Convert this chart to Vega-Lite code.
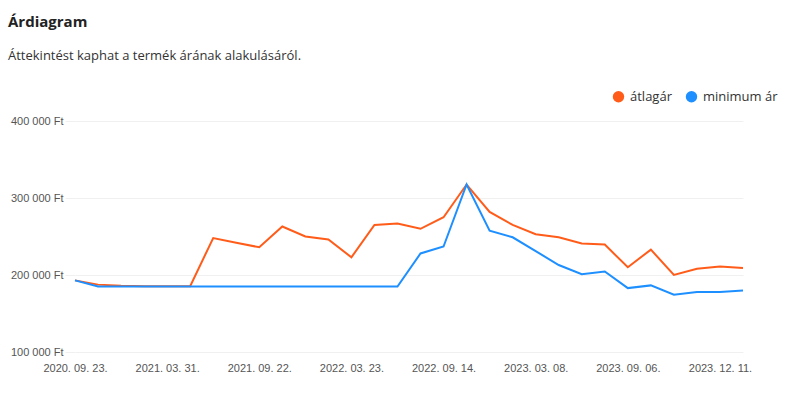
{
  "$schema": "https://vega.github.io/schema/vega-lite/v6.json",
  "autosize": {"type": "none"},
  "width": 668,
  "height": 231,
  "padding": {"left": 75, "top": 121, "right": 57, "bottom": 42},
  "background": "white",
  "title": {
    "text": "Árdiagram",
    "subtitle": "Áttekintést kaphat a termék árának alakulásáról.",
    "anchor": "start",
    "frame": "group",
    "dx": -67,
    "offset": 27,
    "font": "Open Sans",
    "fontSize": 15,
    "fontWeight": "bold",
    "color": "#222222",
    "subtitleFont": "Open Sans",
    "subtitleFontSize": 13,
    "subtitleColor": "#333333",
    "subtitlePadding": 20
  },
  "data": {"values": [
    {"date": "2020. 09. 23.", "series": "átlagár", "price": 193000},
    {"date": "2020. 11. 10.", "series": "átlagár", "price": 187500},
    {"date": "2020. 12. 29.", "series": "átlagár", "price": 186000},
    {"date": "2021. 02. 10.", "series": "átlagár", "price": 185500},
    {"date": "2021. 03. 31.", "series": "átlagár", "price": 185500},
    {"date": "2021. 05. 19.", "series": "átlagár", "price": 185500},
    {"date": "2021. 06. 30.", "series": "átlagár", "price": 248000},
    {"date": "2021. 08. 11.", "series": "átlagár", "price": 242000},
    {"date": "2021. 09. 22.", "series": "átlagár", "price": 236000},
    {"date": "2021. 11. 10.", "series": "átlagár", "price": 263000},
    {"date": "2021. 12. 22.", "series": "átlagár", "price": 250000},
    {"date": "2022. 02. 09.", "series": "átlagár", "price": 246000},
    {"date": "2022. 03. 23.", "series": "átlagár", "price": 223000},
    {"date": "2022. 05. 11.", "series": "átlagár", "price": 265000},
    {"date": "2022. 06. 22.", "series": "átlagár", "price": 267000},
    {"date": "2022. 08. 03.", "series": "átlagár", "price": 260000},
    {"date": "2022. 09. 14.", "series": "átlagár", "price": 275000},
    {"date": "2022. 11. 02.", "series": "átlagár", "price": 317500},
    {"date": "2022. 12. 14.", "series": "átlagár", "price": 282000},
    {"date": "2023. 01. 25.", "series": "átlagár", "price": 265000},
    {"date": "2023. 03. 08.", "series": "átlagár", "price": 253000},
    {"date": "2023. 04. 26.", "series": "átlagár", "price": 249000},
    {"date": "2023. 06. 07.", "series": "átlagár", "price": 241000},
    {"date": "2023. 07. 19.", "series": "átlagár", "price": 239500},
    {"date": "2023. 09. 06.", "series": "átlagár", "price": 210000},
    {"date": "2023. 09. 27.", "series": "átlagár", "price": 233000},
    {"date": "2023. 10. 25.", "series": "átlagár", "price": 200000},
    {"date": "2023. 11. 15.", "series": "átlagár", "price": 208000},
    {"date": "2023. 12. 11.", "series": "átlagár", "price": 211000},
    {"date": "2024. 01. 10.", "series": "átlagár", "price": 209000},
    {"date": "2020. 09. 23.", "series": "minimum ár", "price": 193000},
    {"date": "2020. 11. 10.", "series": "minimum ár", "price": 185000},
    {"date": "2020. 12. 29.", "series": "minimum ár", "price": 185000},
    {"date": "2021. 02. 10.", "series": "minimum ár", "price": 185000},
    {"date": "2021. 03. 31.", "series": "minimum ár", "price": 185000},
    {"date": "2021. 05. 19.", "series": "minimum ár", "price": 185000},
    {"date": "2021. 06. 30.", "series": "minimum ár", "price": 185000},
    {"date": "2021. 08. 11.", "series": "minimum ár", "price": 185000},
    {"date": "2021. 09. 22.", "series": "minimum ár", "price": 185000},
    {"date": "2021. 11. 10.", "series": "minimum ár", "price": 185000},
    {"date": "2021. 12. 22.", "series": "minimum ár", "price": 185000},
    {"date": "2022. 02. 09.", "series": "minimum ár", "price": 185000},
    {"date": "2022. 03. 23.", "series": "minimum ár", "price": 185000},
    {"date": "2022. 05. 11.", "series": "minimum ár", "price": 185000},
    {"date": "2022. 06. 22.", "series": "minimum ár", "price": 185000},
    {"date": "2022. 08. 03.", "series": "minimum ár", "price": 228000},
    {"date": "2022. 09. 14.", "series": "minimum ár", "price": 237000},
    {"date": "2022. 11. 02.", "series": "minimum ár", "price": 317500},
    {"date": "2022. 12. 14.", "series": "minimum ár", "price": 257500},
    {"date": "2023. 01. 25.", "series": "minimum ár", "price": 249000},
    {"date": "2023. 03. 08.", "series": "minimum ár", "price": 231000},
    {"date": "2023. 04. 26.", "series": "minimum ár", "price": 213000},
    {"date": "2023. 06. 07.", "series": "minimum ár", "price": 201000},
    {"date": "2023. 07. 19.", "series": "minimum ár", "price": 204500},
    {"date": "2023. 09. 06.", "series": "minimum ár", "price": 183000},
    {"date": "2023. 09. 27.", "series": "minimum ár", "price": 186500},
    {"date": "2023. 10. 25.", "series": "minimum ár", "price": 174500},
    {"date": "2023. 11. 15.", "series": "minimum ár", "price": 178000},
    {"date": "2023. 12. 11.", "series": "minimum ár", "price": 178000},
    {"date": "2024. 01. 10.", "series": "minimum ár", "price": 180000}
  ]},
  "mark": {"type": "line", "strokeWidth": 2, "interpolate": "linear"},
  "encoding": {
    "x": {
      "field": "date",
      "type": "ordinal",
      "sort": null,
      "scale": {"type": "point", "padding": 0},
      "axis": {
        "title": null,
        "values": ["2020. 09. 23.", "2021. 03. 31.", "2021. 09. 22.", "2022. 03. 23.", "2022. 09. 14.", "2023. 03. 08.", "2023. 09. 06.", "2023. 12. 11."],
        "labelAngle": 0,
        "ticks": false,
        "domain": false,
        "grid": false,
        "labelPadding": 10,
        "labelFont": "Liberation Sans",
        "labelFontSize": 11,
        "labelColor": "#555555",
        "labelOverlap": false
      }
    },
    "y": {
      "field": "price",
      "type": "quantitative",
      "scale": {"domain": [100000, 400000], "nice": false, "zero": false},
      "axis": {
        "title": null,
        "values": [100000, 200000, 300000, 400000],
        "labelExpr": "format(datum.value / 1000, 'd') + ' 000 Ft'",
        "grid": true,
        "gridColor": "#f0f0f0",
        "gridWidth": 1,
        "ticks": true,
        "tickColor": "#f0f0f0",
        "tickSize": 10,
        "domain": false,
        "labelPadding": 2,
        "labelFont": "Liberation Sans",
        "labelFontSize": 11,
        "labelColor": "#555555"
      }
    },
    "color": {
      "field": "series",
      "type": "nominal",
      "scale": {"domain": ["átlagár", "minimum ár"], "range": ["#ff5c1a", "#1e8fff"]},
      "legend": {
        "title": null,
        "orient": "none",
        "legendX": 537,
        "legendY": -31,
        "direction": "horizontal",
        "columns": 2,
        "columnPadding": 13,
        "symbolType": "circle",
        "symbolSize": 130,
        "symbolStrokeWidth": 0,
        "symbolOpacity": 1,
        "labelOffset": 5,
        "labelFont": "Open Sans",
        "labelFontSize": 13,
        "labelColor": "#333333",
        "encode": {
          "symbols": {
            "update": {
              "fill": {"scale": "color", "field": "value"},
              "fillOpacity": {"value": 1},
              "strokeWidth": {"value": 0}
            }
          }
        }
      }
    }
  },
  "config": {
    "view": {"stroke": null}
  }
}
